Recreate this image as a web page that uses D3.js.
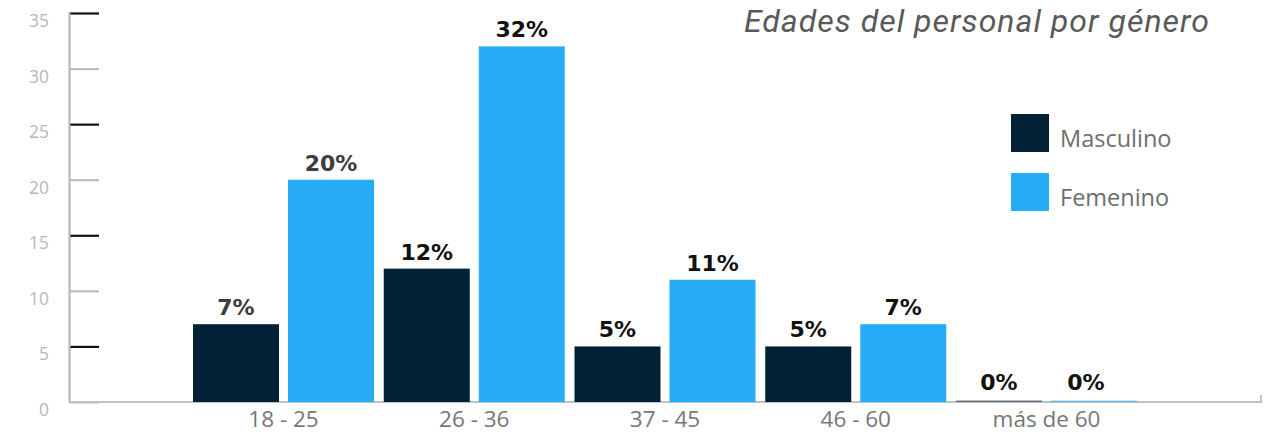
<!DOCTYPE html>
<html><head><meta charset="utf-8">
<script src="https://cdn.jsdelivr.net/npm/d3@7"></script>
<style>body{margin:0;background:#fff}svg{display:block}</style>
</head><body>
<svg id="c" width="1268" height="434"></svg>
<script>
const categories = ["18 - 25", "26 - 36", "37 - 45", "46 - 60", "más de 60"];
const seriesNames = ["Masculino", "Femenino"];
const masculino = [7, 12, 5, 5, 0];
const femenino = [20, 32, 11, 7, 0];
const yTicks = [0, 5, 10, 15, 20, 25, 30, 35];
const title = "Edades del personal por género";

const colors = {Masculino: "#022036", Femenino: "#27adf8"};
const svg = d3.select("#c");
svg.append("rect").attr("width", 1268).attr("height", 434).attr("fill", "#fff");

const y = d3.scaleLinear().domain([0, 35]).range([402, 13]);
const x0 = d3.scaleBand().domain(categories).range([193, 1137]).paddingInner(9.75 / 190.75).paddingOuter(0);
const x1 = d3.scaleBand().domain(seriesNames).range([0, x0.bandwidth()]).paddingInner(0.0947).paddingOuter(0);

// y axis
const yAxis = svg.append("g").attr("transform", "translate(70,0)")
  .call(d3.axisRight(y).tickValues(yTicks).tickSize(29).tickFormat(""));
yAxis.select(".domain").remove();
yAxis.selectAll(".tick line").attr("stroke", d => (d / 5) % 2 === 1 ? "#111" : "#bdbdbd").attr("stroke-width", 2.2);
svg.append("line").attr("x1", 69.5).attr("x2", 69.5).attr("y1", 12).attr("y2", 403).attr("stroke", "#b3b3b3").attr("stroke-width", 2);
svg.selectAll("text.ylab").data(yTicks).join("text").attr("class", "ylab")
  .attr("x", 49).attr("y", d => y(d) + 14).attr("text-anchor", "end")
  .style("font-family", "Open Sans").style("font-size", "17.5px").attr("fill", "#b8b8b8").text(d => d);

// x axis
svg.append("line").attr("x1", 69).attr("x2", 1262).attr("y1", 402).attr("y2", 402).attr("stroke", "#c2c2c2").attr("stroke-width", 2);
svg.append("line").attr("x1", 1261).attr("x2", 1261).attr("y1", 395).attr("y2", 403).attr("stroke", "#c2c2c2").attr("stroke-width", 2);
const xAxis = svg.append("g").attr("transform", "translate(0,402)")
  .call(d3.axisBottom(x0).tickSize(0).tickPadding(0));
xAxis.select(".domain").remove();
xAxis.selectAll("text").attr("dy", null).attr("y", 25).style("font-family", "Open Sans").style("font-size", "22.5px").attr("fill", "#777");

// bars
const rows = categories.map((c, i) => ({cat: c, vals: [{s: "Masculino", v: masculino[i]}, {s: "Femenino", v: femenino[i]}]}));
const g = svg.selectAll("g.grp").data(rows).join("g").attr("class", "grp")
  .attr("transform", d => `translate(${x0(d.cat)},0)`);
g.selectAll("rect").data(d => d.vals).join("rect")
  .attr("x", d => x1(d.s)).attr("width", x1.bandwidth())
  .attr("y", d => d.v === 0 ? y(0) - 1.5 : y(d.v))
  .attr("height", d => d.v === 0 ? 1.5 : y(0) - y(d.v))
  .attr("fill", d => colors[d.s]).attr("opacity", d => d.v === 0 ? 0.55 : 1);
g.selectAll("text").data((d, gi) => d.vals.map((v, j) => ({...v, gi, j}))).join("text")
  .attr("x", d => x1(d.s) + x1.bandwidth() / 2 - (d.v === 0 && d.j === 1 ? 8 : 0))
  .attr("y", d => d.v === 0 ? y(0) - 12 : y(d.v) - 9)
  .attr("text-anchor", "middle").style("font-family", "DejaVu Sans").attr("font-weight", "bold")
  .style("font-size", "22px").attr("fill", d => d.gi === 0 ? "#3d3d3d" : "#111")
  .text(d => d.v + "%");

// legend
const lg = svg.selectAll("g.leg").data(seriesNames).join("g").attr("class", "leg")
  .attr("transform", (d, i) => `translate(1011,${114 + i * 59})`);
lg.append("rect").attr("width", 38).attr("height", 38).attr("fill", d => colors[d]);
lg.append("text").attr("x", 49).attr("y", 33).style("font-family", "Open Sans").style("font-size", "23.5px").attr("fill", "#6e6e6e").text(d => d);

// title
const t = svg.append("text").attr("x", 1210).attr("y", 32).attr("text-anchor", "end")
  .style("font-family", "Roboto").style("font-style", "italic").style("font-size", "32px").attr("fill", "#595959").text(title);
const len = t.node().getComputedTextLength();
const ls = Math.max(0, Math.min(2, (465 - len) / (title.length - 1)));
t.style("letter-spacing", ls + "px");
</script>
</body></html>
